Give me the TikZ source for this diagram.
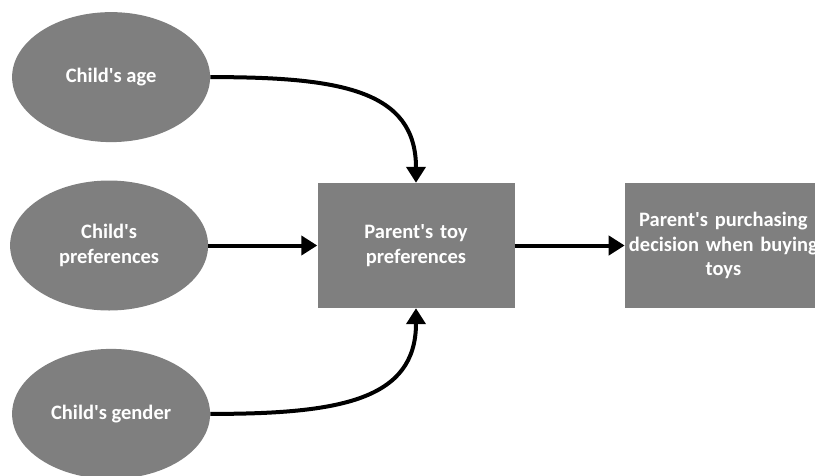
\documentclass[tikz,border=0pt]{standalone}
\usepackage{fontspec}
\setmainfont{Carlito}
\usepackage{tikz}
\usetikzlibrary{arrows.meta, positioning, shapes.geometric}
\definecolor{BoxGray}{HTML}{7F7F7F}
\newcommand{\apos}{\textquotesingle}
\tikzset{
  base node/.style={fill=BoxGray, text=white, inner sep=0pt, align=center,
                    font=\fontsize{20.5}{24.5}\selectfont\bfseries},
  cause node/.style={base node, ellipse, minimum width=198pt, minimum height=130pt},
  box node/.style={base node, rectangle, minimum width=197pt, minimum height=125pt,
                   text width=197pt},
  flow edge/.style={-{Triangle[length=16pt, width=19pt]}, line width=4pt},
}
\begin{document}
\begin{tikzpicture}[x=1pt, y=-1pt]
  \clip (0,0) rectangle (815,475);
  \node[box node] (ptoy) at (416,245.5) {Parent\apos s toy\\preferences};
  \node[cause node, left=109pt of ptoy] (pref) {Child\apos s\\preferences};
  \node[cause node, above=38pt of pref, xshift=2pt] (age) {Child\apos s age};
  \node[cause node, below=38pt of pref, xshift=2pt] (gender) {Child\apos s gender};
  \node[box node, right=110pt of ptoy] (decide) {Parent\apos s purchasing\\decision when buying\\toys};
  \draw[flow edge] (age.east) .. controls (340,77) and (416,90) .. (ptoy.north);
  \draw[flow edge] (gender.east) .. controls (340,414) and (416,400) .. (ptoy.south);
  \draw[flow edge] (pref.east) -- (ptoy.west);
  \draw[flow edge] (ptoy.east) -- (decide.west);
\end{tikzpicture}
\end{document}
